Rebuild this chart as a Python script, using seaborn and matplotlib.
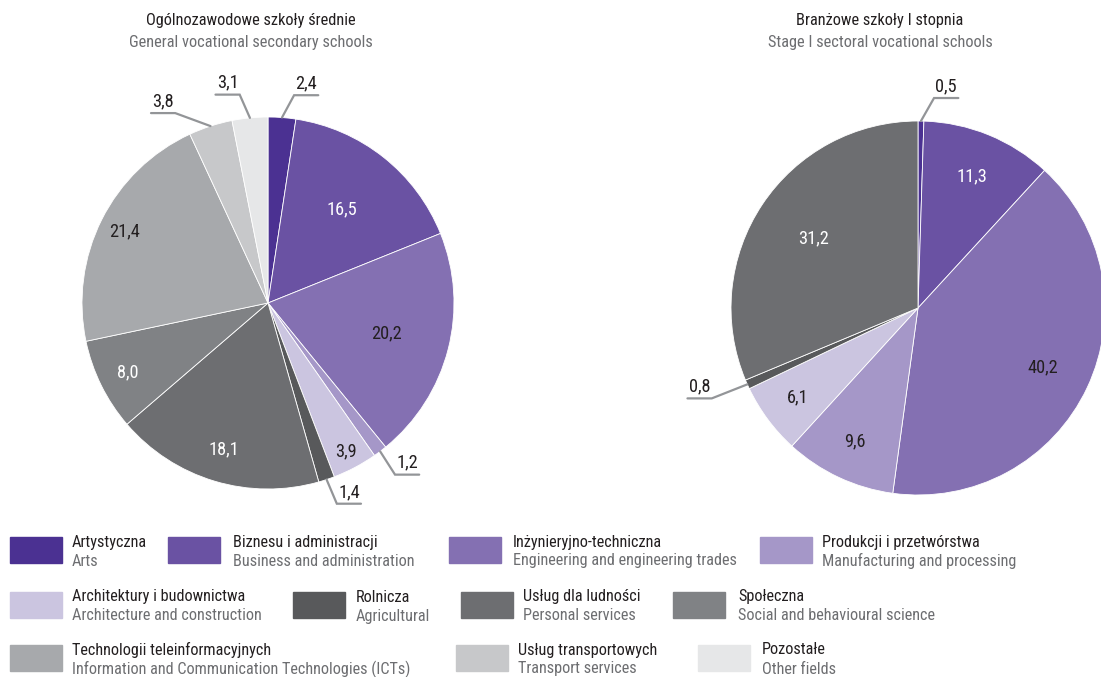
import matplotlib
matplotlib.use("Agg")
import numpy as np
import matplotlib.pyplot as plt
from matplotlib import font_manager
import seaborn as sns
from matplotlib.patches import Rectangle

# --- data -----------------------------------------------------------------
categories_pl = ["Artystyczna", "Biznesu i administracji", "Inżynieryjno-techniczna",
                 "Produkcji i przetwórstwa", "Architektury i budownictwa", "Rolnicza",
                 "Usług dla ludności", "Społeczna", "Technologii teleinformacyjnych",
                 "Usług transportowych", "Pozostałe"]
categories_en = ["Arts", "Business and administration", "Engineering and engineering trades",
                 "Manufacturing and processing", "Architecture and construction", "Agricultural",
                 "Personal services", "Social and behavioural science",
                 "Information and Communication Technologies (ICTs)",
                 "Transport services", "Other fields"]
general_values = [2.4, 16.5, 20.2, 1.2, 3.9, 1.4, 18.1, 8.0, 21.4, 3.8, 3.1]
sectoral_values = [0.5, 11.3, 40.2, 9.6, 6.1, 0.8, 31.2]

colors = ["#4b3192", "#6a52a3", "#8470b2", "#a597c8", "#cbc5e0", "#58595b",
          "#6d6e71", "#808285", "#a7a9ac", "#c7c8ca", "#e6e7e8"]

sns.set_theme(style="white")

# pick a narrow font if one is there
names = {f.name for f in font_manager.fontManager.ttflist}
narrow = [n for n in ["Liberation Sans Narrow", "Roboto Condensed", "Open Sans Condensed"]
          if n in names]
plt.rcParams["font.family"] = narrow + ["DejaVu Sans"]
plt.rcParams["font.stretch"] = "condensed"

W, H = 1101, 677
fig = plt.figure(figsize=(W / 100, H / 100), dpi=100)

# scale text so the subtitle has its reference width (243 px)
renderer = fig.canvas.get_renderer()
probe = fig.text(0, 0, "General vocational secondary schools", fontsize=10)
pw = probe.get_window_extent(renderer).width
probe.remove()
FS = min(12.5, 10 * 245 / pw)
LFS = FS * 0.99
VFS = FS * 1.12


def fx(px):
    return px / W


def fy(py):
    return 1 - py / H


def fmt(v):
    return f"{v:.1f}".replace(".", ",")


LINE = "#939598"
DARK = "#231f20"
GREY = "#6d6e71"


def draw_pie(cx, cy, r, values, inside, outside):
    ax = fig.add_axes([fx(cx - r), fy(cy + r), fx(2 * r), 2 * r / H])
    pal = sns.color_palette(colors[:len(values)])
    wedges, _ = ax.pie(values, colors=pal, startangle=90, counterclock=False,
                       radius=1, wedgeprops=dict(edgecolor="white", linewidth=0.6))
    ax.set_xlim(-1, 1)
    ax.set_ylim(-1, 1)
    ax.set_aspect("equal")
    ax.axis("off")
    for i, w in enumerate(wedges):
        mid = np.deg2rad((w.theta1 + w.theta2) / 2)
        if i in inside:
            rr, col = inside[i]
            ax.text(rr * np.cos(mid), rr * np.sin(mid), fmt(values[i]), color=col,
                    ha="center", va="center", fontsize=VFS)
        elif i in outside:
            dx, dy, side = outside[i]
            x0, y0 = np.cos(mid), np.sin(mid)
            x1, y1 = x0 + dx, y0 + dy
            x2 = x1 + 0.13 * side
            ax.plot([x0, x1, x2], [y0, y1, y1], color=LINE, lw=1.6,
                    solid_joinstyle="miter", clip_on=False)
            ax.text((x1 + x2) / 2, y1 + 0.015, fmt(values[i]), color=DARK,
                    ha="center", va="bottom", fontsize=VFS)
    return ax


draw_pie(268, 303, 186, general_values,
         inside={1: (0.64, "white"), 2: (0.66, DARK), 4: (0.9, DARK),
                 6: (0.82, "white"), 7: (0.84, "white"), 8: (0.86, DARK)},
         outside={0: (0.065, 0.12, 1), 3: (0.08, -0.125, 1), 5: (0.055, -0.13, 1),
                  9: (-0.19, 0.07, -1), 10: (-0.055, 0.125, -1)})

draw_pie(918, 308, 187, sectoral_values,
         inside={1: (0.76, "white"), 2: (0.74, DARK), 3: (0.79, DARK),
                 4: (0.8, DARK), 6: (0.67, "white")},
         outside={0: (0.07, 0.123, 1), 5: (-0.19, -0.075, -1)})

# titles
fig.text(fx(251), fy(20), "Ogólnozawodowe szkoły średnie", ha="center", va="center",
         fontsize=FS, color=DARK)
fig.text(fx(251), fy(43), "General vocational secondary schools", ha="center", va="center",
         fontsize=FS, color=GREY)
fig.text(fx(880), fy(20), "Branżowe szkoły I stopnia", ha="center", va="center",
         fontsize=FS, color=DARK)
fig.text(fx(880), fy(43), "Stage I sectoral vocational schools", ha="center", va="center",
         fontsize=FS, color=GREY)

# legend (swatch left x, text left x, row top y)
legend_pos = [(10, 72, 537), (168, 233, 537), (449, 513, 537), (760, 822, 537),
              (10, 72, 592), (293, 356, 592), (461, 523, 592), (673, 738, 592),
              (10, 72, 645), (456, 518, 645), (698, 762, 645)]
for (sx, tx, ty), c, pl, en in zip(legend_pos, colors, categories_pl, categories_en):
    fig.patches.append(Rectangle((fx(sx), fy(ty + 26)), fx(52), 26 / H, color=c,
                                 transform=fig.transFigure, figure=fig))
    fig.text(fx(tx), fy(ty + 5), pl, ha="left", va="center", fontsize=LFS, color=DARK)
    fig.text(fx(tx), fy(ty + 24), en, ha="left", va="center", fontsize=LFS, color=GREY)

plt.savefig("out.png", dpi=100)
